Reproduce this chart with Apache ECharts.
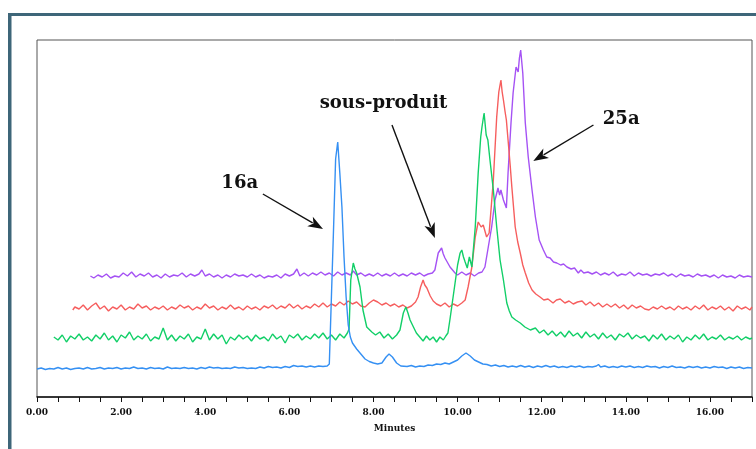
<!DOCTYPE html>
<html><head><meta charset="utf-8">
<script src="https://cdn.jsdelivr.net/npm/echarts@6/dist/echarts.min.js"></script>
<style>html,body{margin:0;padding:0;background:#fff}#c{width:756px;height:449px}</style>
</head><body><div id="c"></div>
<script>
// Retention time (minutes) / detector response (arbitrary units)
const blue = [[0,28],[0.1,29],[0.2,27.5],[0.3,28.5],[0.4,28],[0.5,29.5],[0.6,28],[0.7,29],[0.8,27.5],[0.9,28.5],[1.0,29],[1.1,28],[1.2,29.5],[1.3,28],[1.4,28.5],[1.5,29.5],[1.6,28],[1.7,29],[1.8,28.5],[1.9,29.5],[2.0,28],[2.1,29],[2.2,28.5],[2.3,30],[2.4,28.5],[2.5,29],[2.6,28],[2.7,29.5],[2.8,28.5],[2.9,29],[3.0,28],[3.1,30],[3.2,28.5],[3.3,29],[3.4,28.5],[3.5,29.5],[3.6,28.5],[3.7,29],[3.8,28],[3.9,29.5],[4.0,28.5],[4.1,30],[4.2,29],[4.3,29.5],[4.4,28.5],[4.5,29],[4.6,28.5],[4.7,30],[4.8,29],[4.9,29.5],[5.0,28.5],[5.1,29],[5.2,28.5],[5.3,30],[5.4,29],[5.5,30.5],[5.6,29.5],[5.7,30],[5.8,29],[5.9,30.5],[6.0,29.5],[6.1,31.5],[6.2,30.5],[6.3,31],[6.4,30],[6.5,31],[6.6,30],[6.7,31],[6.8,30.5],[6.9,31],[6.95,33],[7.0,100],[7.05,167],[7.1,238],[7.15,255],[7.2,224],[7.25,190],[7.3,140],[7.35,100],[7.4,72],[7.45,60],[7.5,54],[7.6,48],[7.7,43],[7.8,38],[7.9,35.5],[8.0,34],[8.1,33],[8.2,34],[8.3,40],[8.37,43],[8.45,40],[8.55,34],[8.65,31],[8.8,30.5],[8.9,31.5],[9.0,30],[9.1,31],[9.2,30.5],[9.3,32],[9.4,31.5],[9.5,33],[9.6,32.5],[9.7,34],[9.8,33],[9.9,35],[10.0,37],[10.1,41],[10.2,44],[10.3,41],[10.4,37],[10.5,35],[10.6,33],[10.7,32.5],[10.8,31],[10.9,32],[11.0,30.5],[11.1,31.5],[11.2,30],[11.3,31],[11.4,30],[11.5,31.5],[11.6,30],[11.7,31],[11.8,29.5],[11.9,31],[12.0,30],[12.1,31.5],[12.2,30],[12.3,31],[12.4,29.5],[12.5,30.5],[12.6,29.5],[12.7,31],[12.8,30],[12.9,31],[13.0,29.5],[13.1,30.5],[13.2,30],[13.3,31],[13.35,32.5],[13.4,30],[13.5,31],[13.6,29.5],[13.7,30.5],[13.8,29.5],[13.9,31],[14.0,30],[14.1,31],[14.2,29.5],[14.3,30.5],[14.4,29.5],[14.5,31],[14.6,30],[14.7,30.5],[14.8,29],[14.9,30.5],[15.0,29.5],[15.1,31],[15.2,29.5],[15.3,30],[15.4,29],[15.5,30.5],[15.6,29.5],[15.7,30.5],[15.8,29],[15.9,30],[16.0,29],[16.1,30.5],[16.2,29.5],[16.3,30],[16.4,28.5],[16.5,30],[16.6,29],[16.7,30],[16.8,28.5],[16.9,29.5],[17.0,29]];

const green = [[0.4,60],[0.5,57],[0.6,62],[0.7,55],[0.8,61],[0.9,58],[1.0,63],[1.1,57],[1.2,60],[1.3,56],[1.4,62],[1.5,58],[1.6,64],[1.7,57],[1.8,61],[1.9,55],[2.0,62],[2.1,59],[2.2,65],[2.3,57],[2.4,61],[2.5,58],[2.6,63],[2.7,56],[2.8,60],[2.9,58],[3.0,69],[3.1,57],[3.2,62],[3.3,56],[3.4,61],[3.5,58],[3.6,63],[3.7,55],[3.8,60],[3.9,58],[4.0,68],[4.1,57],[4.2,63],[4.3,58],[4.4,62],[4.5,53],[4.6,60],[4.7,57],[4.8,62],[4.9,58],[5.0,61],[5.1,56],[5.2,62],[5.3,58],[5.4,60],[5.5,56],[5.6,63],[5.7,58],[5.8,61],[5.9,54],[6.0,62],[6.1,59],[6.2,63],[6.3,57],[6.4,61],[6.5,58],[6.6,63],[6.7,59],[6.8,64],[6.9,58],[7.0,62],[7.1,57],[7.2,63],[7.3,59],[7.38,64],[7.42,68],[7.46,117],[7.52,134],[7.56,128],[7.6,124],[7.68,110],[7.75,87],[7.84,70],[7.96,65],[8.05,62],[8.15,65],[8.25,59],[8.35,63],[8.45,58],[8.55,62],[8.63,67],[8.71,84],[8.77,90],[8.82,84],[8.87,77],[8.95,70],[9.02,64],[9.1,60],[9.18,56],[9.26,61],[9.34,57],[9.42,60],[9.5,55],[9.58,60],[9.66,57],[9.72,61],[9.77,64],[9.82,78],[9.86,90],[9.94,114],[10.0,132],[10.06,144],[10.1,147],[10.14,140],[10.18,135],[10.23,129],[10.28,140],[10.34,130],[10.38,150],[10.42,170],[10.49,224],[10.55,260],[10.58,270],[10.63,284],[10.68,262],[10.72,257],[10.77,237],[10.85,207],[10.93,170],[11.01,137],[11.09,117],[11.17,94],[11.23,86],[11.29,80],[11.38,77],[11.49,74],[11.6,70],[11.73,67],[11.85,69],[11.95,64],[12.05,67],[12.15,62],[12.25,66],[12.35,61],[12.45,65],[12.55,60],[12.65,66],[12.75,61],[12.85,64],[12.95,59],[13.05,65],[13.15,60],[13.25,63],[13.35,58],[13.45,64],[13.55,59],[13.65,62],[13.75,57],[13.85,63],[13.95,60],[14.05,64],[14.15,58],[14.25,62],[14.35,59],[14.45,61],[14.55,56],[14.65,62],[14.75,58],[14.85,63],[14.95,57],[15.05,61],[15.15,58],[15.25,62],[15.35,55],[15.45,60],[15.55,57],[15.65,62],[15.75,58],[15.85,63],[15.95,57],[16.05,60],[16.15,58],[16.25,62],[16.35,57],[16.45,60],[16.55,58],[16.65,61],[16.75,57],[16.85,60],[16.95,58],[17.0,59]];

const red = [[0.85,87],[0.9,90],[1.0,88],[1.1,92],[1.2,87],[1.3,91],[1.4,94],[1.5,88],[1.6,91],[1.7,86],[1.8,90],[1.9,88],[2.0,92],[2.1,87],[2.2,90],[2.3,88],[2.4,93],[2.5,89],[2.6,91],[2.7,87],[2.8,90],[2.9,88],[3.0,91],[3.1,87],[3.2,90],[3.3,88],[3.4,92],[3.5,89],[3.6,91],[3.7,87],[3.8,90],[3.9,88],[4.0,93],[4.1,89],[4.2,91],[4.3,87],[4.4,90],[4.5,88],[4.6,92],[4.7,88],[4.8,90],[4.9,87],[5.0,91],[5.1,88],[5.2,90],[5.3,87],[5.4,91],[5.5,89],[5.6,92],[5.7,88],[5.8,91],[5.9,89],[6.0,93],[6.1,89],[6.2,92],[6.3,88],[6.4,91],[6.5,89],[6.6,93],[6.7,90],[6.8,94],[6.9,90],[7.0,93],[7.1,91],[7.2,95],[7.3,92],[7.4,96],[7.5,93],[7.6,95],[7.7,91],[7.8,90],[7.9,94],[8.0,97],[8.1,95],[8.2,92],[8.3,94],[8.4,91],[8.5,93],[8.6,90],[8.7,92],[8.8,89],[8.9,91],[9.0,95],[9.06,100],[9.12,110],[9.18,117],[9.22,112],[9.27,109],[9.35,101],[9.42,96],[9.5,93],[9.6,91],[9.7,94],[9.8,90],[9.9,93],[10.0,91],[10.1,94],[10.18,97],[10.25,110],[10.34,130],[10.42,160],[10.49,175],[10.56,170],[10.61,172],[10.69,160],[10.75,164],[10.8,190],[10.85,217],[10.93,280],[10.98,305],[11.03,317],[11.06,305],[11.09,297],[11.13,285],[11.16,277],[11.2,257],[11.25,232],[11.29,210],[11.37,170],[11.43,155],[11.49,144],[11.55,132],[11.61,124],[11.69,114],[11.77,107],[11.86,103],[11.96,100],[12.05,97],[12.15,98],[12.27,94],[12.35,97],[12.44,98],[12.55,94],[12.65,96],[12.75,93],[12.85,95],[12.96,96],[13.05,92],[13.15,95],[13.25,91],[13.35,94],[13.45,90],[13.55,93],[13.65,90],[13.75,93],[13.85,89],[13.95,92],[14.05,88],[14.15,92],[14.25,89],[14.35,91],[14.45,88],[14.55,87],[14.65,90],[14.75,88],[14.85,91],[14.95,88],[15.05,90],[15.15,87],[15.25,91],[15.35,88],[15.45,90],[15.55,87],[15.65,91],[15.75,88],[15.85,92],[15.95,87],[16.05,90],[16.15,88],[16.25,91],[16.35,87],[16.45,90],[16.55,86],[16.65,91],[16.75,88],[16.85,90],[16.95,87],[17.0,90]];

const purple = [[1.27,121],[1.35,119],[1.45,122],[1.55,120],[1.65,123],[1.75,119],[1.85,121],[1.95,120],[2.05,124],[2.15,121],[2.25,125],[2.35,120],[2.45,123],[2.55,121],[2.65,124],[2.75,120],[2.85,122],[2.95,119],[3.05,123],[3.15,120],[3.25,122],[3.35,121],[3.45,124],[3.55,120],[3.65,123],[3.75,121],[3.85,123],[3.92,127],[4.0,121],[4.1,123],[4.2,120],[4.3,122],[4.4,119],[4.5,122],[4.6,120],[4.7,123],[4.8,121],[4.9,122],[5.0,120],[5.1,123],[5.2,120],[5.3,122],[5.4,119],[5.5,121],[5.6,120],[5.7,122],[5.8,119],[5.9,123],[6.0,121],[6.1,123],[6.18,128],[6.25,121],[6.35,124],[6.45,121],[6.55,124],[6.65,122],[6.75,125],[6.85,122],[6.95,124],[7.05,121],[7.15,125],[7.25,122],[7.35,124],[7.45,122],[7.52,126],[7.6,122],[7.7,124],[7.8,121],[7.9,123],[8.0,121],[8.1,124],[8.2,121],[8.3,123],[8.4,121],[8.5,124],[8.6,121],[8.7,123],[8.8,121],[8.9,124],[9.0,122],[9.1,124],[9.2,121],[9.3,123],[9.4,124],[9.46,127],[9.54,144],[9.62,149],[9.66,143],[9.7,139],[9.82,130],[9.94,124],[10.0,122],[10.1,125],[10.2,122],[10.3,124],[10.4,121],[10.5,124],[10.58,125],[10.65,130],[10.73,150],[10.81,170],[10.89,197],[10.96,209],[11.0,202],[11.03,207],[11.09,197],[11.16,189],[11.2,224],[11.27,274],[11.32,304],[11.39,330],[11.44,325],[11.47,339],[11.5,347],[11.55,324],[11.61,274],[11.68,240],[11.77,207],[11.85,180],[11.94,157],[12.04,147],[12.12,140],[12.2,139],[12.28,135],[12.36,134],[12.45,132],[12.52,133],[12.6,130],[12.7,128],[12.78,129],[12.87,124],[12.93,127],[13.0,124],[13.1,125],[13.2,123],[13.3,125],[13.4,122],[13.5,124],[13.6,122],[13.7,125],[13.8,121],[13.9,123],[14.0,122],[14.1,125],[14.2,121],[14.3,124],[14.4,122],[14.5,123],[14.6,121],[14.7,123],[14.8,122],[14.9,124],[15.0,121],[15.1,123],[15.2,120],[15.3,123],[15.4,121],[15.5,122],[15.6,120],[15.7,123],[15.8,121],[15.9,122],[16.0,120],[16.1,122],[16.2,119],[16.3,122],[16.4,120],[16.5,121],[16.6,119],[16.7,122],[16.8,120],[16.9,121],[17.0,120]];

// Annotations: label, label position, arrow tail, arrow tip (data coordinates)
const annLabels = ['16a', 'sous-produit', '25a'];
const annText = [[4.82, 214], [8.24, 294], [13.89, 278]];
const annTail = [[5.37, 203], [8.44, 272], [13.23, 272]];
const annTip = [[6.80, 168], [9.46, 159], [11.80, 236]];

const xMin = 0, xMax = 17, tickStep = 0.5, labelStep = 2;

const chart = echarts.init(document.getElementById('c'), null, {renderer: 'canvas'});
const serif = 'DejaVu Serif';
const mk = (name, data, color) => ({
  name, type: 'line', data, showSymbol: false, symbol: 'none', smooth: false,
  lineStyle: {color, width: 1.4}, silent: true, animation: false
});
chart.setOption({
  animation: false,
  grid: {left: 37, right: 4, top: 40, bottom: 52, show: true, borderColor: '#555', borderWidth: 1, backgroundColor: 'transparent'},
  xAxis: {
    type: 'value', min: xMin, max: xMax, interval: tickStep,
    name: 'Minutes', nameLocation: 'middle', nameGap: 27,
    nameTextStyle: {fontFamily: serif, fontWeight: 'bold', fontSize: 9, color: '#111'},
    axisLine: {show: true, lineStyle: {color: '#111', width: 1.5}},
    axisTick: {show: true, length: 5, lineStyle: {color: '#111', width: 1}},
    splitLine: {show: false},
    axisLabel: {
      margin: 11, fontFamily: serif, fontWeight: 'bold', fontSize: 9, color: '#111',
      showMinLabel: true, showMaxLabel: true,
      formatter: v => (Math.abs(v / labelStep - Math.round(v / labelStep)) < 1e-6) ? v.toFixed(2) : ''
    }
  },
  yAxis: {type: 'value', min: 0, max: 357, show: false, splitLine: {show: false}},
  series: [mk('purple', purple, '#a552f4'), mk('red', red, '#f65e5e'), mk('green', green, '#12cf68'), mk('blue', blue, '#3590f3')]
});

function arrowGraphics() {
  const g = [];
  // outer teal frame (top and left)
  g.push({type: 'rect', shape: {x: 8, y: 13, width: 760, height: 3}, style: {fill: '#3e6679'}, z: 100});
  g.push({type: 'rect', shape: {x: 8, y: 13, width: 3.5, height: 450}, style: {fill: '#3e6679'}, z: 100});
  annLabels.forEach((txt, i) => {
    const p = chart.convertToPixel({gridIndex: 0}, annText[i]);
    const a = chart.convertToPixel({gridIndex: 0}, annTail[i]);
    const b = chart.convertToPixel({gridIndex: 0}, annTip[i]);
    g.push({type: 'text', x: p[0], y: p[1], style: {text: txt, fontFamily: serif, fontWeight: 'bold', fontSize: 18, fill: '#111', align: 'center', verticalAlign: 'middle'}, z: 100});
    const dx = b[0] - a[0], dy = b[1] - a[1], L = Math.hypot(dx, dy);
    const ux = dx / L, uy = dy / L, hl = 15, hw = 5.5;
    const bx = b[0] - ux * hl, by = b[1] - uy * hl;
    g.push({type: 'line', shape: {x1: a[0], y1: a[1], x2: bx + ux * 3, y2: by + uy * 3}, style: {stroke: '#111', lineWidth: 1.4}, z: 100});
    g.push({type: 'polygon', shape: {points: [[b[0], b[1]], [bx - uy * hw, by + ux * hw], [bx + ux * 4, by + uy * 4], [bx + uy * hw, by - ux * hw]]}, style: {fill: '#111'}, z: 100});
  });
  return g;
}
chart.setOption({graphic: arrowGraphics()});
</script></body></html>
